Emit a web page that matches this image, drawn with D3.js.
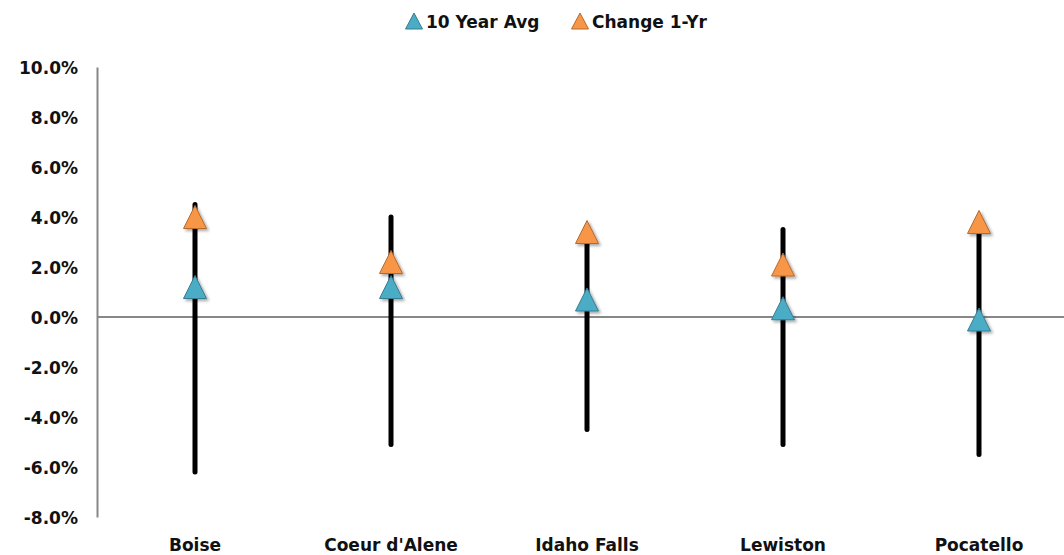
<!DOCTYPE html>
<html><head><meta charset="utf-8">
<script src="https://cdn.jsdelivr.net/npm/d3@7"></script>
<style>
body{margin:0;background:#fff;}
svg text{font-family:"DejaVu Sans",Verdana,sans-serif;font-weight:bold;fill:#111;}
</style></head>
<body><svg id="c" width="1064" height="555"></svg>
<script>
const categories = ["Boise","Coeur d'Alene","Idaho Falls","Lewiston","Pocatello"];
const highValues = [4.5, 4.0, 3.0, 3.5, 3.6];
const lowValues = [-6.2, -5.1, -4.5, -5.1, -5.5];
const tenYearAvg = [1.2, 1.2, 0.7, 0.35, -0.1];
const change1Yr = [4.0, 2.2, 3.4, 2.1, 3.8];
const seriesNames = ["10 Year Avg", "Change 1-Yr"];
const yTicks = [-8,-6,-4,-2,0,2,4,6,8,10];

const svg = d3.select("#c");
const mLeft = 97, mTop = 67, plotW = 980, plotH = 450;
const x = d3.scaleBand().domain(categories).range([mLeft, mLeft + plotW]);
const y = d3.scaleLinear().domain([-8, 10]).range([mTop + plotH, mTop]);
const fmt = d3.formatLocale({decimal:".", thousands:",", grouping:[3], currency:["$",""], minus:"-"}).format(".1f");
const FONT = '"DejaVu Sans",Verdana,sans-serif';

const defs = svg.append("defs");
const f = defs.append("filter").attr("id","sh").attr("x","-50%").attr("y","-50%").attr("width","200%").attr("height","200%");
f.append("feGaussianBlur").attr("in","SourceAlpha").attr("stdDeviation",1.5).attr("result","b");
f.append("feOffset").attr("in","b").attr("dx",1.5).attr("dy",1.5).attr("result","o");
f.append("feComponentTransfer").attr("in","o").attr("result","o2").append("feFuncA").attr("type","linear").attr("slope",0.35);
const mg = f.append("feMerge"); mg.append("feMergeNode").attr("in","o2"); mg.append("feMergeNode").attr("in","SourceGraphic");

const yAxis = d3.axisLeft(y).tickValues(yTicks).tickSize(0).tickPadding(19)
  .tickFormat(d => fmt(d) + "%");
const ya = svg.append("g").attr("transform", `translate(${mLeft},0)`).call(yAxis);
ya.select(".domain").attr("stroke","#878787").attr("stroke-width",2);
ya.selectAll("text").attr("font-size",17).attr("font-family",FONT).attr("font-weight","bold").attr("fill","#111").attr("dy","0.4em");

svg.append("line").attr("x1",mLeft).attr("x2",mLeft+plotW).attr("y1",y(0)).attr("y2",y(0))
  .attr("stroke","#878787").attr("stroke-width",2);

const xAxis = d3.axisBottom(x).tickSize(0).tickPadding(0);
const xa = svg.append("g").attr("transform", `translate(0,${mTop+plotH})`).call(xAxis);
xa.select(".domain").remove();
xa.selectAll("text").attr("font-size",17).attr("font-family",FONT).attr("font-weight","bold").attr("fill","#111").attr("y",34).attr("dy",0);

svg.append("g").selectAll("line").data(categories).join("line")
  .attr("x1", d => x(d) + x.bandwidth()/2).attr("x2", d => x(d) + x.bandwidth()/2)
  .attr("y1", (d,i) => y(highValues[i])).attr("y2", (d,i) => y(lowValues[i]))
  .attr("stroke","#000").attr("stroke-width",5).attr("stroke-linecap","round");

function triPath(w, h) {
  const p = d3.path();
  p.moveTo(0, -h/2); p.lineTo(w/2, h/2); p.lineTo(-w/2, h/2); p.closePath();
  return p.toString();
}
const colors = [{fill:"#4BACC6", stroke:"#357d91"},{fill:"#F79646", stroke:"#b86a2c"}];
[tenYearAvg, change1Yr].forEach((vals, s) => {
  svg.append("g").selectAll("path").data(vals).join("path")
    .attr("d", triPath(23, 23))
    .attr("transform", (v,i) => `translate(${x(categories[i]) + x.bandwidth()/2},${y(v)})`)
    .attr("fill", colors[s].fill).attr("stroke", colors[s].stroke).attr("stroke-width",1)
    .attr("filter","url(#sh)");
});

const legendX = [414, 580];
seriesNames.forEach((n, s) => {
  svg.append("path").attr("d", triPath(17, 16))
    .attr("transform", `translate(${legendX[s]},${21})`)
    .attr("fill", colors[s].fill).attr("stroke", colors[s].stroke).attr("stroke-width",1);
  svg.append("text").attr("x", legendX[s] + 12).attr("y", 28)
    .attr("font-size",17).text(n);
});
</script></body></html>
